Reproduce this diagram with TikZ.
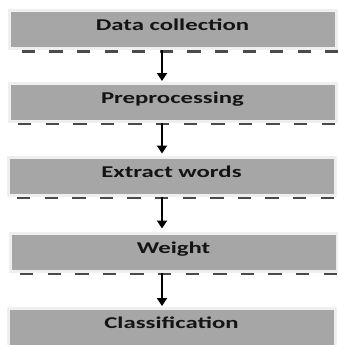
\documentclass[tikz,border=0pt]{standalone}
\usepackage{fontspec}
\newfontfamily\boxfont{Carlito}[FakeStretch=1.5]
\usetikzlibrary{arrows.meta}
\definecolor{boxgray}{HTML}{A6A6A6}
\definecolor{boxedge}{HTML}{EFEFEF}
\definecolor{dashgray}{HTML}{4A4A4A}
\tikzset{
  stepbox/.style={rectangle, fill=boxgray, draw=boxedge, line width=3pt,
    inner sep=0pt, minimum width=327pt, minimum height=38pt,
    text height=10.5pt, text depth=8.5pt, text=black!92,
    font=\boxfont\bfseries\fontsize{16.5}{18}\selectfont},
  sepline/.style={draw=dashgray, line width=2.5pt, dash pattern=on 13.3pt off 14.3pt},
  flow/.style={draw=black, line width=2.5pt, -{Triangle[width=10pt,length=8pt]}}
}
\begin{document}
\begin{tikzpicture}[x=1pt,y=-1pt]
\useasboundingbox (0,0) rectangle (337,345);
\fill[white] (0,0) rectangle (337,345);
\node[stepbox] (b1) at (172.5,29.5) {Data collection};
\node[stepbox] (b2) at (172.5,102.5) {Preprocessing};
\node[stepbox] (b3) at (171.5,176) {Extract words};
\node[stepbox] (b4) at (173.5,252) {Weight};
\node[stepbox] (b5) at (171.5,327.5) {Classification};
% dashed separators
\path[sepline] (21.7,51.7) -- (345,51.7);
\path[sepline] (18,124) -- (345,124);
\path[sepline] (17,198) -- (345,198);
\path[sepline] (20,274) -- (345,274);
% arrows
\draw[flow] ([xshift=-10.5pt]b1.south) -- ([xshift=-10.5pt,yshift=1pt]b2.north);
\draw[flow] ([xshift=-10.5pt]b2.south) -- ([xshift=-9.5pt,yshift=2pt]b3.north);
\draw[flow] ([xshift=-9.5pt]b3.south) -- ([xshift=-11.5pt,yshift=3pt]b4.north);
\draw[flow] ([xshift=-11.5pt]b4.south) -- ([xshift=-9.5pt,yshift=1pt]b5.north);
\end{tikzpicture}
\end{document}
